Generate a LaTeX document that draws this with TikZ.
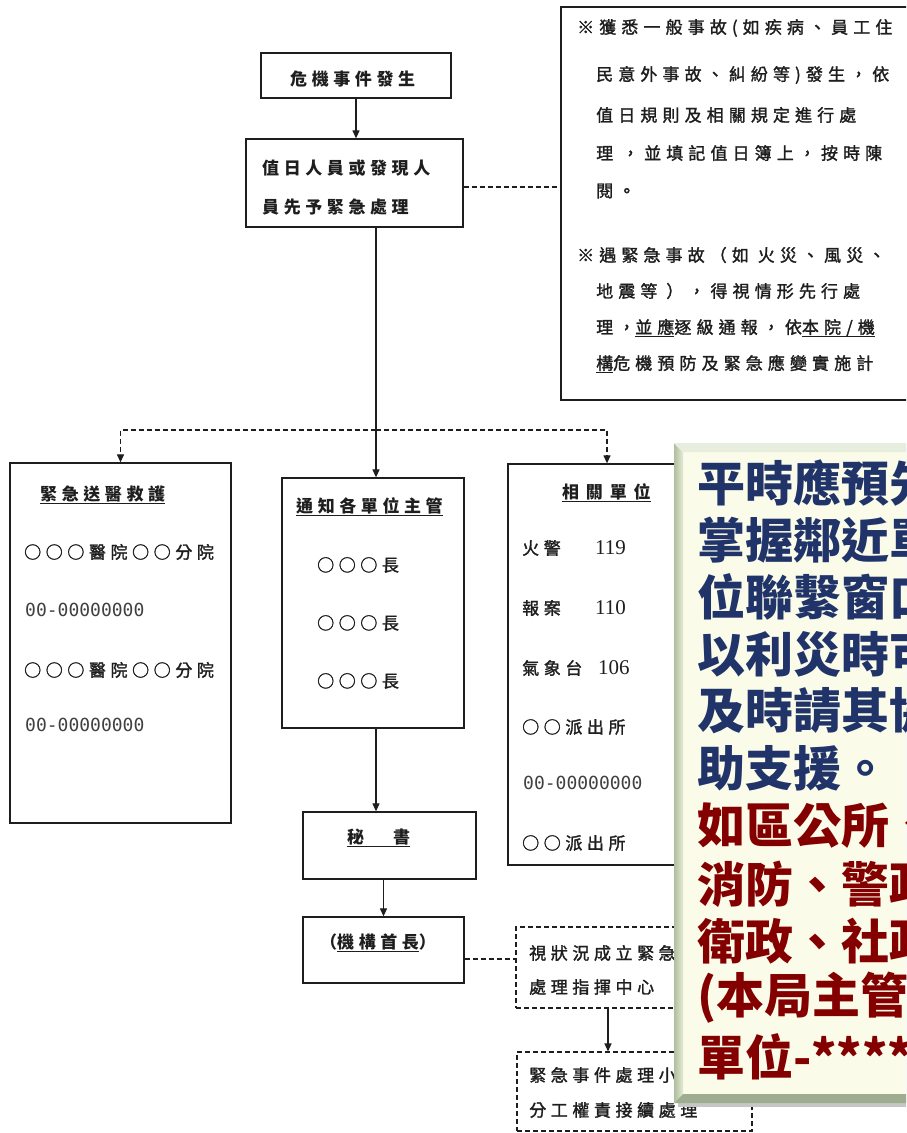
\documentclass[tikz,border=0pt]{standalone}
\usepackage{fontspec}
\usetikzlibrary{arrows.meta,calc}
\newfontfamily\cjk[LetterSpace=27,FakeBold=1.6]{Noto Sans CJK TC}
\newfontfamily\cjkn[LetterSpace=30,FakeBold=1.6]{Noto Sans CJK TC}
\newfontfamily\cjkb[LetterSpace=27]{Noto Sans CJK TC}
\newfontfamily\cjkwide[LetterSpace=40]{Noto Sans CJK TC}
\newfontfamily\cjkcall{Noto Sans CJK TC}
\newfontfamily\monof{DejaVu Sans Mono}
\newfontfamily\numf{Liberation Serif}
\definecolor{ink}{RGB}{30,30,30}
\definecolor{callfill}{RGB}{250,252,233}
\definecolor{callblue}{RGB}{33,52,106}
\definecolor{callred}{RGB}{132,0,0}
\definecolor{bevL}{RGB}{176,189,158}
\definecolor{bevLi}{RGB}{228,235,214}
\definecolor{bevT}{RGB}{232,238,222}
\definecolor{bevB}{RGB}{158,172,144}
\newcommand{\ulx}[1]{\setbox0\hbox{#1}\rlap{\rule[-3.5pt]{\wd0}{1pt}}\box0}
\tikzset{
  box/.style={draw=ink, line width=1.3pt, fill=white, inner sep=0pt},
  dbox/.style={draw=ink, line width=1.1pt, dash pattern=on 5pt off 3pt, fill=white, inner sep=0pt},
  txt/.style={anchor=west, inner sep=0pt, text=ink, font=\cjk\fontsize{17}{17}\selectfont},
  btxt/.style={anchor=west, inner sep=0pt, text=ink, font=\cjkb\bfseries\fontsize{17}{17}\selectfont},
  wtxt/.style={anchor=west, inner sep=0pt, text=ink, font=\cjkwide\bfseries\fontsize{17}{17}\selectfont},
  ntxt/.style={anchor=west, inner sep=0pt, text=ink, font=\cjkn\fontsize{17}{17}\selectfont},
  mtxt/.style={anchor=west, inner sep=0pt, text=ink!85, font=\monof\fontsize{18}{18}\selectfont},
  stxt/.style={anchor=west, inner sep=0pt, text=ink, font=\numf\fontsize{21}{21}\selectfont},
  arr/.style={draw=ink, line width=1.2pt, -{Triangle[length=8pt,width=7pt]}},
  darr/.style={arr, dash pattern=on 5pt off 3pt},
  dline/.style={draw=ink, line width=1.1pt, dash pattern=on 5pt off 3pt},
  ctxt/.style={anchor=west, inner sep=0pt, font=\cjkcall\bfseries\fontsize{48}{48}\selectfont}
}
\begin{document}
\begin{tikzpicture}[x=1pt,y=-1pt]
\path[use as bounding box] (0,0) rectangle (906,1133);
\clip (0,0) rectangle (906,1133);
\fill[white] (0,0) rectangle (906,1133);

% boxes
\node[box, minimum width=190pt, minimum height=45pt] (top) at (356,75.5) {};
\node[box, minimum width=217pt, minimum height=88pt] (b2) at (354.5,183) {};
\node[box, line width=1.8pt, minimum width=370pt, minimum height=393pt] (note) at (746,203.5) {};
\node[box, minimum width=221pt, minimum height=360pt] (left) at (120.5,643) {};
\node[box, minimum width=182pt, minimum height=250pt] (mid) at (373,603) {};
\node[box, minimum width=198pt, minimum height=401pt] (right) at (607,664.5) {};
\node[box, minimum width=173pt, minimum height=67pt] (sec) at (389.5,845.5) {};
\node[box, minimum width=161pt, minimum height=66pt] (head) at (383.5,950) {};
\node[dbox, minimum width=196pt, minimum height=81pt] (cmd) at (614,967.5) {};
\node[dbox, minimum width=235pt, minimum height=79pt] (team) at (634.5,1091.5) {};

% connectors
\coordinate (vx) at ([xshift=3pt]mid.north);
\coordinate (jm) at (vx |- 0,430);
\coordinate (be) at ([yshift=-4pt]b2.east);
\coordinate (he) at ([yshift=-9pt]head.east);
\coordinate (cs) at ([xshift=-6pt]cmd.south);
\draw[arr] (top.south) -- (top.south |- b2.north);
\draw[dline] (be) -- (be -| note.west);
\draw[arr] (vx |- b2.south) -- (vx);
\draw[darr] (jm) -| (left.north);
\draw[darr] (jm) -| (right.north);
\draw[arr] (vx |- mid.south) -- (vx |- sec.north);
\draw[arr] (head.north |- sec.south) -- (head.north);
\draw[dline] (he) -- (he -| cmd.west);
\draw[arr] (cs) -- (cs |- team.north);

% texts
\node[btxt] (t1) at (290,79) {危機事件發生};
\node[btxt] (t2a) at (262,168) {值日人員或發現人};
\node[btxt] (t2b) at (262,207) {員先予緊急處理};

\node[ntxt] (n1) at (577,28) {※獲悉一般事故(如疾病、員工住};
\node[ntxt] (n2) at (596,75) {民意外事故、糾紛等)發生，依};
\node[ntxt] (n3) at (596,115) {值日規則及相關規定進行處};
\node[ntxt] (n4) at (596,153) {理 ，並填記值日簿上，按時陳};
\node[ntxt] (n5) at (596,191) {閱。};
\node[ntxt] (n6) at (577,255) {※遇緊急事故（如 火災、風災、};
\node[ntxt] (n7) at (596,291) {地震等 ），得視情形先行處};
\node[ntxt] (n8) at (596,328) {理，\ulx{並應}逐級通報，依\ulx{本院/機}};
\node[ntxt] (n9) at (596,364) {\ulx{構}危機預防及緊急應變實施計};

\node[btxt] (l0) at (40,495) {\ulx{緊急送醫救護}};
\node[txt] (l1) at (24,552) {○○○醫院○○分院};
\node[mtxt] (l2) at (25,610) {00-00000000};
\node[txt] (l3) at (24,670) {○○○醫院○○分院};
\node[mtxt] (l4) at (25,725) {00-00000000};

\node[btxt] (m0) at (296,507) {\ulx{通知各單位主管}};
\node[txt] (m1) at (317,565) {○○○長};
\node[txt] (m2) at (317,623) {○○○長};
\node[txt] (m3) at (317,681) {○○○長};

\node[wtxt] (r0) at (562,493) {\ulx{相關單位}};
\node[txt] (r1) at (522,548) {火警};
\node[stxt] (r1n) at (595,548) {119};
\node[txt] (r2) at (522,608) {報案};
\node[stxt] (r2n) at (595,608) {110};
\node[txt] (r3) at (522,668) {氣象台};
\node[stxt] (r3n) at (598,668) {106};
\node[txt] (r4) at (522,727) {○○派出所};
\node[mtxt] (r5) at (523,783) {00-00000000};
\node[txt] (r6) at (522,843) {○○派出所};

\node[btxt] (s0) at (347,838) {\ulx{秘\kern29pt 書}};
\node[btxt] (h0) at (320,943) {（\ulx{機構首長}）};

\node[txt] (c1) at (529,953) {視狀況成立緊急};
\node[txt] (c2) at (529,987) {處理指揮中心};
\node[txt] (e1) at (529,1075) {緊急事件處理小組};
\node[txt] (e2) at (529,1110) {分工權責接續處理};

% callout
\fill[gray!45] (678,448) rectangle (935,1107);
\fill[callfill] (674,443) rectangle (930,1103);
\shade[left color=bevL, right color=bevLi] (674,443) -- (683,452) -- (683,1094) -- (674,1103) -- cycle;
\fill[bevT] (674,443) -- (930,443) -- (930,452) -- (683,452) -- cycle;
\fill[bevB] (674,1103) -- (683,1094) -- (930,1094) -- (930,1103) -- cycle;
\node[ctxt, text=callblue] (k1) at (697,483) {平時應預先};
\node[ctxt, text=callblue] (k2) at (697,540) {掌握鄰近單};
\node[ctxt, text=callblue] (k3) at (697,597) {位聯繫窗口};
\node[ctxt, text=callblue] (k4) at (697,654) {以利災時可};
\node[ctxt, text=callblue] (k5) at (697,711) {及時請其協};
\node[ctxt, text=callblue] (k6) at (697,768) {助支援。};
\node[ctxt, text=callred] (k7) at (697,826) {如區公所、};
\node[ctxt, text=callred] (k8) at (697,884) {消防、警政};
\node[ctxt, text=callred] (k9) at (697,941) {衛政、社政};
\node[ctxt, text=callred] (k10) at (697,998) {(本局主管};
\node[ctxt, text=callred] (k11) at (697,1057) {單位-****消};
\end{tikzpicture}
\end{document}
